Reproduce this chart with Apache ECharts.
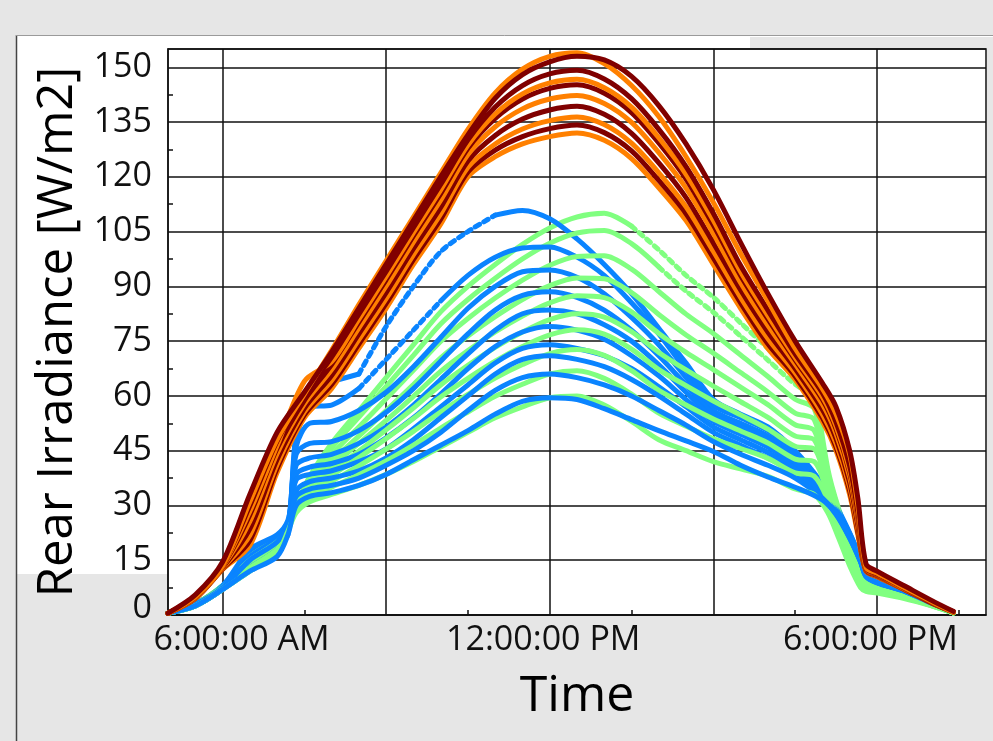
<!DOCTYPE html>
<html><head><meta charset="utf-8">
<script src="https://cdn.jsdelivr.net/npm/echarts@6/dist/echarts.min.js"></script>
<style>html,body{margin:0;padding:0;background:#e6e6e6}#c{width:993px;height:741px}</style>
</head><body><div id="c"></div>
<script>
// ---------- axis ticks ----------
const xLabelHours = [6, 12, 18];
const xTickLabels = ['6:00:00 AM', '12:00:00 PM', '6:00:00 PM'];
const xGridHours = [6, 9, 12, 15, 18];
const xMinorHours = [7.5, 10.5, 13.5, 16.5, 19.5];
const yMinorValues = [7.5, 22.5, 37.5, 52.5, 67.5, 82.5, 97.5, 112.5, 127.5, 142.5];

// ---------- time grids (hours of day) ----------
const warmHours = [5.0, 5.5, 6.0, 6.5, 7.0, 7.5, 8.0, 8.5, 9.0, 9.5, 10.0, 10.5, 11.0, 11.5, 12.0, 12.5, 13.0, 13.5, 14.0, 14.5, 15.0, 15.5, 16.0, 16.5, 17.0, 17.25, 17.5, 17.65, 17.8, 18.0, 18.5, 19.0, 19.4];
const blueHours = [5.0, 5.5, 6.0, 6.5, 7.0, 7.2, 7.35, 7.6, 8.0, 8.5, 9.0, 9.5, 10.0, 10.5, 11.0, 11.5, 12.0, 12.5, 13.0, 13.5, 14.0, 14.5, 15.0, 15.5, 16.0, 16.5, 17.0, 17.25, 17.5, 17.7, 17.8, 18.0, 18.5, 19.0, 19.4];
const greenHours = [5.0, 5.5, 6.0, 6.5, 7.0, 7.2, 7.35, 7.6, 8.0, 8.5, 9.0, 9.5, 10.0, 10.5, 11.0, 11.5, 12.0, 12.5, 13.0, 13.5, 14.0, 14.5, 15.0, 15.5, 16.0, 16.5, 16.85, 17.1, 17.3, 17.5, 17.7, 17.8, 18.0, 18.5, 19.0, 19.4];

// ---------- warm group (orange / dark red) ----------
const orange1 = [0.5, 5, 13.5, 31, 48, 60.5, 72.5, 85, 97, 109, 121, 133, 143, 149.5, 153, 154, 151, 145, 136.5, 125.5, 113, 99, 86, 73, 62, 55, 44, 30, 13, 11.5, 7.5, 3.7, 0.8];
const darkRed1 = [0.5, 5.5, 14.5, 33, 50, 61, 72, 84, 96, 108, 120, 131.5, 141.5, 148, 151.5, 153, 152, 147.5, 139.5, 129, 116.5, 102, 88, 75, 63.5, 57, 45, 32, 14, 12, 8, 4, 1];
const darkRed2 = [0.5, 4.9, 13.7, 29.9, 47.6, 60.2, 70.6, 82.4, 94.1, 106.1, 117.9, 130.1, 139.1, 145, 148.2, 149.2, 146.8, 141.4, 133, 122.8, 110, 95.7, 83.5, 71.5, 60.8, 52.8, 40.8, 28.2, 12.8, 11.3, 7.4, 3.6, 0.8];
const orange2 = [0.5, 4.8, 13.5, 28.4, 46.4, 64, 69.4, 81, 92.7, 104.7, 116.4, 128.7, 137.2, 142.7, 145.7, 146.7, 144.4, 139.1, 130.7, 120.7, 108.1, 94, 82, 70.5, 59.7, 51.7, 39.7, 27.4, 12.7, 11.2, 7.3, 3.6, 0.8];
const darkRed3 = [0.5, 4.8, 13.4, 27.4, 45.6, 58.8, 68.6, 80.2, 91.8, 103.8, 115.4, 127.8, 136, 141.3, 144.2, 145.2, 142.9, 137.6, 129.3, 119.4, 106.8, 93, 81.1, 69.9, 59, 51, 39, 26.8, 12.6, 11.1, 7.3, 3.5, 0.8];
const orange3 = [0.5, 4.7, 13.2, 25.6, 44.2, 57.8, 67.2, 78.6, 90.1, 102.1, 113.6, 126.1, 133.7, 138.6, 141.3, 142.3, 140.1, 134.9, 126.6, 116.9, 104.5, 91, 79.3, 68.7, 57.7, 49.7, 37.7, 25.8, 12.5, 11, 7.2, 3.5, 0.8];
const darkRed4 = [0.5, 4.7, 13, 23.6, 42.6, 56.6, 65.6, 77, 88.3, 100.3, 111.6, 124.3, 131.3, 135.8, 138.3, 139.3, 137.1, 131.9, 123.8, 114.3, 101.9, 89, 77.5, 67.5, 56.3, 48.3, 36.3, 24.6, 12.3, 10.8, 7.2, 3.4, 0.8];
const orange4 = [0.5, 4.6, 12.8, 21.8, 41.2, 55.6, 64.2, 75.4, 86.6, 98.6, 109.8, 122.6, 129, 133.1, 135.4, 136.4, 134.3, 129.2, 121.1, 111.8, 99.6, 87, 75.7, 66.3, 55, 47, 35, 23.6, 12.2, 10.7, 7.1, 3.4, 0.8];
const darkRed5 = [0.5, 4.5, 12.6, 20.4, 40.1, 54.8, 63.1, 74.2, 85.3, 97.3, 108.4, 121.3, 127.3, 131, 133.2, 134.2, 132.1, 127.1, 119, 109.9, 97.8, 85.5, 74.3, 65.4, 54, 46, 34, 22.8, 12.1, 10.6, 7, 3.3, 0.8];
const orange5 = [0.5, 4.5, 12.5, 19, 39, 54, 62, 73, 84, 96, 107, 120, 125.5, 129, 131, 132, 130, 125, 117, 108, 96, 84, 73, 64.5, 53, 45, 33, 22, 12, 10.5, 7, 3.3, 0.8];

// ---------- blue group ----------
const blue1 = [0.5, 3, 8, 17, 21, 24, 50, 63, 64, 66, 79, 90, 99.5, 105, 109.5, 110.8, 108.5, 103, 96, 88, 78.5, 69, 59, 55, 51.5, 45, 36, 30, 22.5, 15.5, 11.5, 9.5, 6.8, 3.4, 0.8];
const blue2 = [0.5, 3, 7.5, 15, 20, 23, 48, 57, 57.5, 62, 70, 78, 86, 93, 98, 100.5, 100.8, 98, 93, 85.5, 77, 67, 57.5, 54, 50.5, 44.5, 35.5, 29.5, 22.3, 15.3, 11.3, 9.4, 6.8, 3.4, 0.8];
const blue3 = [0.5, 2.5, 7, 13, 19, 22, 46, 52.5, 53, 56, 61, 68, 76, 84, 90, 94, 94.5, 92.5, 88, 81.5, 74, 65, 56, 52.5, 49, 43.5, 35, 29.2, 22.1, 15.2, 11.2, 9.3, 6.7, 3.4, 0.8];
const blue4 = [0.5, 3, 8, 16, 21, 25, 44, 47, 47.5, 50.5, 55.5, 62, 69.5, 77, 83.5, 87.5, 88.5, 87, 83.5, 78, 71, 63, 55, 51.5, 48, 43, 34.5, 29, 22, 15.1, 11.1, 9.2, 6.7, 3.3, 0.8];
const blue5 = [0.5, 3, 7.5, 14, 18, 24, 41, 43, 44, 47, 51.5, 57.5, 64.5, 71.5, 78, 82.5, 83.5, 82.5, 79.5, 75, 68.5, 61, 54, 50.5, 47, 42, 34, 28.7, 21.8, 15, 11, 9.1, 6.7, 3.3, 0.8];
const blue6 = [0.5, 2.5, 7, 12, 17, 23, 38.5, 40.5, 41.5, 44, 48.5, 54, 60.5, 67.5, 73.5, 77.5, 79, 78, 75.5, 71, 65.5, 59, 53, 49.5, 46, 41, 33.5, 28.5, 21.6, 14.9, 10.9, 9, 6.6, 3.3, 0.8];
const blue7 = [0.5, 3, 8, 18, 22, 26, 37, 38.5, 39.5, 42, 45.5, 51, 57, 63, 69, 73, 74, 73, 71, 67.5, 62.5, 57, 51.5, 48, 44.5, 40, 33, 28.2, 21.5, 14.8, 10.8, 9, 6.6, 3.3, 0.8];
const blue8 = [0.5, 2.5, 7, 13, 18, 24, 34, 36.5, 37.5, 39.5, 43, 48, 54, 60, 66, 70, 71, 70, 68, 64.5, 60, 55, 50, 46.5, 43, 39, 32.5, 28, 21.3, 14.7, 10.7, 8.9, 6.6, 3.3, 0.8];
const blue9 = [0.5, 3, 7.5, 15, 20, 25, 32.5, 34.5, 35.5, 37.5, 41, 45, 50, 56, 61.5, 65, 66, 65, 63, 60, 56, 52, 47.5, 44, 41, 37.5, 32, 27.8, 21.2, 14.6, 10.6, 8.9, 6.5, 3.2, 0.8];
const blue10 = [0.5, 2.5, 7, 12, 16, 22, 30, 32.5, 33.5, 35.5, 38.5, 42.5, 46.5, 50.5, 55, 58.5, 59.5, 59, 56.5, 53.5, 50.5, 47.7, 44.8, 41, 37.8, 35, 31.5, 27.5, 21, 14.5, 10.5, 8.8, 6.5, 3.2, 0.8];

// ---------- green group ----------
const green1 = [0.5, 3, 8, 15, 20, 25, 30, 38, 47, 56, 65, 74, 83, 90, 96, 101.5, 106, 109, 110, 106.5, 100, 93, 87, 80, 73, 66, 64, 40, 29, 21, 13, 9.5, 8, 5.8, 3, 0.6];
const green2 = [0.5, 3, 7.5, 14, 19, 24.5, 30, 37.4, 45.7, 54.2, 62.6, 71.1, 79.7, 86.4, 92.2, 97.5, 101.8, 104.6, 105.3, 101.7, 95.3, 88.7, 82.9, 76.4, 69.8, 63.2, 60, 39, 28.5, 20.5, 12.5, 9, 7.8, 5.7, 2.9, 0.6];
const green3 = [0.5, 2.5, 7.5, 13, 18, 24, 29.5, 36.5, 43.9, 51.5, 59.2, 67, 74.9, 81.2, 86.8, 91.7, 95.8, 98.2, 98.4, 94.7, 88.6, 82.4, 77.1, 71.2, 65.3, 59.1, 56.5, 38, 28, 20, 12, 8.8, 7.6, 5.6, 2.9, 0.6];
const green4 = [0.5, 3, 8, 16, 21, 25, 30, 35.6, 42.2, 49, 56, 63.1, 70.4, 76.4, 81.7, 86.4, 90.2, 92.3, 92.1, 88.3, 82.3, 76.7, 71.7, 66.4, 61.1, 55.3, 53.5, 37, 27, 19.5, 11.5, 8.5, 7.4, 5.5, 2.8, 0.6];
const green5 = [0.5, 3, 7.5, 14, 19, 24, 29, 34.9, 40.8, 47, 53.3, 59.9, 66.7, 72.4, 77.5, 81.9, 85.5, 87.4, 86.9, 83, 77.1, 71.9, 67.2, 62.4, 57.6, 52.1, 50.5, 36, 26.5, 19, 11, 8.2, 7.2, 5.3, 2.8, 0.6];
const green6 = [0.5, 2.5, 7, 13, 18, 23.5, 29, 34.2, 39.4, 44.9, 50.7, 56.7, 63, 68.4, 73.3, 77.5, 80.9, 82.5, 81.6, 77.6, 71.9, 67.1, 62.7, 58.4, 54.1, 49, 48, 35, 26, 18, 10.5, 8, 7, 5.2, 2.7, 0.6];
const green7 = [0.5, 3, 8, 15, 20, 24, 29, 33.6, 38.2, 43.1, 48.3, 53.8, 59.7, 64.8, 69.5, 73.5, 76.7, 78.1, 76.9, 72.8, 67.2, 62.8, 58.6, 54.8, 50.9, 46.2, 45.5, 34, 25, 17, 10, 7.6, 6.8, 5.1, 2.7, 0.6];
const green8 = [0.5, 2.5, 7.5, 14, 19, 24, 28.5, 32.8, 36.6, 40.8, 45.4, 50.3, 55.6, 60.4, 64.9, 68.6, 71.6, 72.7, 71.1, 66.9, 61.5, 57.5, 53.7, 50.4, 47.1, 42.7, 42, 33, 24, 16, 9, 7.2, 6.6, 4.9, 2.6, 0.6];
const green9 = [0.5, 3, 7.5, 13, 18, 23.5, 28.5, 32, 35, 38.4, 42.2, 46.5, 51.2, 55.6, 59.9, 63.2, 66, 66.9, 64.8, 60.5, 55.3, 51.7, 48.3, 45.6, 42.9, 38.9, 38, 31.5, 23, 15, 8, 6.8, 6.3, 4.7, 2.6, 0.6];
const green10 = [0.5, 2.5, 7, 12, 17, 23, 28, 31, 33, 35.5, 38.5, 42, 46, 50, 54, 57, 59.5, 60, 57.5, 53, 48, 45, 42, 40, 38, 34.5, 33, 28, 21, 13.5, 7.5, 6.5, 6, 4.5, 2.5, 0.6];

// stretches (hours) drawn as sparse dots in the reference
const dottedSpans = { blue1: [8.5, 11.0], blue2: [8.5, 10.0], green1: [13.5, 16.85], green2: [14.0, 16.85] };

// ---------- colours ----------
const ORANGE = '#ff8000', DARKRED = '#800000', BLUE = '#0a84ff', GREEN = '#80ff80';
const LW = 5;

function base(data, color, dashed) {
  return {
    type: 'line', data: data, showSymbol: false, smooth: 0.3, silent: true, animation: false,
    connectNulls: false,
    lineStyle: { width: LW, color: color, type: dashed ? [5, 5] : 'solid', cap: 'round' },
    itemStyle: { color: color }
  };
}
function mk(hours, vals, color, span) {
  if (!span) return [base(hours.map((h, i) => [h, vals[i]]), color, false)];
  const solid = hours.map((h, i) => (h > span[0] && h < span[1]) ? [h, null] : [h, vals[i]]);
  const dots = [];
  hours.forEach((h, i) => { if (h >= span[0] && h <= span[1]) dots.push([h, vals[i]]); });
  return [base(solid, color, false), base(dots, color, true)];
}

const blues = [blue1, blue2, blue3, blue4, blue5, blue6, blue7, blue8, blue9, blue10];
const greens = [green1, green2, green3, green4, green5, green6, green7, green8, green9, green10];
const series = [];
for (let i = 0; i < 10; i++) {
  series.push(...mk(greenHours, greens[i], GREEN, dottedSpans['green' + (i + 1)]));
  series.push(...mk(blueHours, blues[i], BLUE, dottedSpans['blue' + (i + 1)]));
}
const warmOrder = [[orange5, ORANGE], [darkRed5, DARKRED], [orange4, ORANGE], [darkRed4, DARKRED], [orange3, ORANGE],
  [darkRed3, DARKRED], [orange2, ORANGE], [darkRed2, DARKRED], [orange1, ORANGE], [darkRed1, DARKRED]];
warmOrder.forEach(p => series.push(...mk(warmHours, p[0], p[1])));

const FONT = '"Open Sans", "Noto Sans", sans-serif';
const GRID = { left: 168, top: 49, width: 818, height: 566 };

const chart = echarts.init(document.getElementById('c'), null, { renderer: 'canvas' });
chart.setOption({
  backgroundColor: '#e6e6e6',
  animation: false,
  graphic: [
    { type: 'rect', z: -10, shape: { x: 17, y: 36, width: 976, height: 705 }, style: { fill: '#ffffff' } },
    { type: 'rect', z: -9, shape: { x: 17, y: 616, width: 976, height: 125 }, style: { fill: '#e6e6e6' } },
    { type: 'rect', z: -9, shape: { x: 17, y: 574, width: 151, height: 42 }, style: { fill: '#e6e6e6' } },
    { type: 'rect', z: -9, shape: { x: 750, y: 37, width: 243, height: 12 }, style: { fill: '#e6e6e6' } },
    { type: 'rect', z: -9, shape: { x: 987, y: 37, width: 6, height: 580 }, style: { fill: '#e6e6e6' } },
    { type: 'line', z: -8, shape: { x1: 16.5, y1: 35, x2: 16.5, y2: 741 }, style: { stroke: '#444', lineWidth: 1.5 } },
    { type: 'line', z: -8, shape: { x1: 16, y1: 35.5, x2: 993, y2: 35.5 }, style: { stroke: '#9a9a9a', lineWidth: 1 } }
  ],
  grid: Object.assign({ show: true, backgroundColor: '#ffffff', borderColor: '#111', borderWidth: 1.5 }, GRID),
  xAxis: [
    {
      type: 'value', min: 5, max: 20, position: 'bottom',
      axisLine: { show: true, onZero: false, lineStyle: { color: '#111', width: 1.5 } },
      axisTick: { show: false, customValues: xGridHours },
      splitLine: { show: true, lineStyle: { color: '#111', width: 1.5 } },
      axisLabel: {
        customValues: xLabelHours, margin: 8, color: '#111', fontSize: 34, fontFamily: FONT,
        formatter: function (v) {
          const i = xLabelHours.indexOf(v);
          return i === 0 ? '{a|' + xTickLabels[i] + '}' : '{b|' + xTickLabels[i] + '}';
        },
        rich: {
          a: { fontSize: 34, fontFamily: FONT, color: '#111', padding: [0, 0, 0, 38] },
          b: { fontSize: 34, fontFamily: FONT, color: '#111', padding: [0, 13, 0, 0] }
        }
      },
      name: 'Time', nameLocation: 'middle', nameGap: 57,
      nameTextStyle: { fontSize: 50, fontFamily: FONT, color: '#000' }
    },
    {
      type: 'value', min: 5, max: 20, position: 'bottom',
      axisLine: { show: false }, splitLine: { show: false }, axisLabel: { show: false },
      axisTick: { show: true, inside: true, length: 5, customValues: xMinorHours, lineStyle: { color: '#111', width: 1.5 } }
    }
  ],
  yAxis: [
    {
      type: 'value', min: 0, max: 155, interval: 15, position: 'left',
      axisLine: { show: true, lineStyle: { color: '#111', width: 1.5 } },
      axisTick: { show: false },
      splitLine: { show: true, lineStyle: { color: '#111', width: 1.5 } },
      axisLabel: {
        showMaxLabel: false, margin: 16, color: '#111', fontSize: 34, fontFamily: FONT,
        formatter: function (v) { return v === 0 ? '{z|0}' : String(v); },
        rich: { z: { fontSize: 34, fontFamily: FONT, color: '#111', padding: [0, 0, 14, 0] } }
      },
      name: 'Rear Irradiance [W/m2]', nameLocation: 'middle', nameGap: 84,
      nameTextStyle: { fontSize: 49, fontFamily: FONT, color: '#000' }
    },
    {
      type: 'value', min: 0, max: 155, position: 'left',
      axisLine: { show: false }, splitLine: { show: false }, axisLabel: { show: false },
      axisTick: { show: true, inside: true, length: 5, customValues: yMinorValues, lineStyle: { color: '#111', width: 1.5 } }
    }
  ],
  series: series
});
</script></body></html>
